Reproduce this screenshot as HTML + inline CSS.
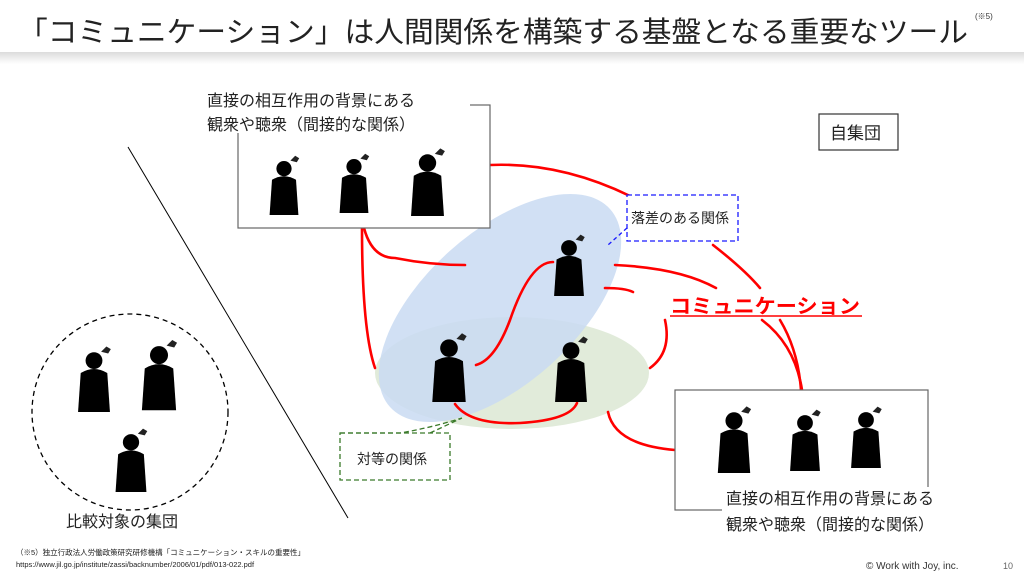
<!DOCTYPE html>
<html><head><meta charset="utf-8"><style>
body{margin:0;width:1024px;height:576px;overflow:hidden;background:#fff;font-family:"Liberation Sans","Noto Sans CJK JP",sans-serif;}
</style></head><body>
<svg width="1024" height="576" viewBox="0 0 1024 576" xmlns="http://www.w3.org/2000/svg" font-family="Liberation Sans, Noto Sans CJK JP, sans-serif">
<defs>
<linearGradient id="sh" x1="0" y1="0" x2="0" y2="1"><stop offset="0" stop-color="#dcdcdc"/><stop offset="1" stop-color="#fff"/></linearGradient>
<symbol id="p" viewBox="0 0 40 70" overflow="visible">
<circle cx="20" cy="12" r="9.5" fill="#000"/>
<path d="M5 26 Q20 17 35 26 L38 70 L2 70 Z" fill="#000"/>
<path d="M28 2 l6 -6 l5 3 l-3 5 z" fill="#222"/>
</symbol>
</defs>
<rect x="0" y="0" width="1024" height="52" fill="#fff"/>
<rect x="0" y="52" width="1024" height="12" fill="url(#sh)"/>
<text x="18" y="42" font-size="29" fill="#222" textLength="950" lengthAdjust="spacingAndGlyphs">「コミュニケーション」は人間関係を構築する基盤となる重要なツール</text>
<text x="975" y="19" font-size="8" fill="#333">(※5)</text>

<line x1="128" y1="147" x2="348" y2="518" stroke="#000" stroke-width="1"/>

<circle cx="130" cy="412" r="98" fill="none" stroke="#000" stroke-width="1.3" stroke-dasharray="5,4"/>
<use href="#p" x="76" y="350" width="36" height="62"/>
<use href="#p" x="140" y="343" width="38" height="68"/>
<use href="#p" x="113" y="432" width="36" height="60"/>
<text x="66" y="527" font-size="16" fill="#222">比較対象の集団</text>

<ellipse cx="512" cy="373" rx="137" ry="56" fill="#e1ebda"/>
<ellipse cx="500" cy="308" rx="148" ry="76" transform="rotate(-42 500 308)" fill="#c9daf2" opacity="0.85"/>

<g fill="none" stroke="#f00" stroke-width="2.6" stroke-linecap="round">
<path d="M490 165 Q560 162 630 196"/>
<path d="M362 228 Q362 330 375 368"/>
<path d="M364 228 Q372 258 395 258 Q430 265 465 265"/>
<path d="M476 365 Q495 360 510 320 Q530 262 553 262"/>
<path d="M615 265 Q680 268 716 288"/>
<path d="M605 288 Q625 288 633 292"/>
<path d="M665 320 Q672 352 650 368"/>
<path d="M455 404 Q470 425 520 423 Q570 420 577 403"/>
<path d="M608 412 Q615 445 675 450"/>
<path d="M713 245 Q745 270 760 288"/>
<path d="M762 320 Q795 345 802 390"/>
<path d="M780 320 Q798 350 801 390"/>
</g>

<rect x="238" y="105" width="252" height="123" fill="#fff" stroke="#666" stroke-width="1.2"/>
<rect x="205" y="85" width="265" height="48" fill="#fff"/>
<text x="207" y="106" font-size="16" fill="#222">直接の相互作用の背景にある</text>
<text x="207" y="130" font-size="16" fill="#222">観衆や聴衆（間接的な関係）</text>
<use href="#p" x="268" y="158" width="32" height="58"/>
<use href="#p" x="338" y="155" width="32" height="60"/>
<use href="#p" x="405" y="152" width="45" height="64"/>

<use href="#p" x="550" y="238" width="38" height="58"/>
<use href="#p" x="430" y="337" width="38" height="65"/>
<use href="#p" x="553" y="340" width="36" height="62"/>

<rect x="627" y="195" width="111" height="46" fill="#fff" stroke="#1a1aff" stroke-width="1.3" stroke-dasharray="5,3"/>
<text x="631" y="223" font-size="14" fill="#222">落差のある関係</text>
<path d="M627 228 L608 245" stroke="#1a1aff" stroke-width="1.3" stroke-dasharray="4,3"/>

<rect x="340" y="433" width="110" height="47" fill="#fff" stroke="#3a7a2a" stroke-width="1.3" stroke-dasharray="5,3"/>
<text x="357" y="464" font-size="14" fill="#222">対等の関係</text>
<path d="M340 433 L400 433 Q430 428 462 418 M430 433 L462 418" fill="none" stroke="#3a7a2a" stroke-width="1.3" stroke-dasharray="5,3"/>

<text x="670" y="313" font-size="20" font-weight="bold" fill="#f00" textLength="190" lengthAdjust="spacingAndGlyphs">コミュニケーション</text>
<line x1="670" y1="316" x2="862" y2="316" stroke="#f00" stroke-width="1.5"/>

<rect x="819" y="114" width="79" height="36" fill="#fff" stroke="#333" stroke-width="1.2"/>
<text x="830" y="139" font-size="17" fill="#222">自集団</text>

<rect x="675" y="390" width="253" height="120" fill="#fff" stroke="#666" stroke-width="1.2"/>
<rect x="722" y="487" width="250" height="50" fill="#fff"/>
<text x="726" y="504" font-size="16" fill="#222">直接の相互作用の背景にある</text>
<text x="726" y="530" font-size="16" fill="#222">観衆や聴衆（間接的な関係）</text>
<use href="#p" x="716" y="410" width="36" height="63"/>
<use href="#p" x="788" y="413" width="34" height="58"/>
<use href="#p" x="848" y="410" width="36" height="58"/>

<text x="16" y="555" font-size="7.5" fill="#222">（※5）独立行政法人労働政策研究研修機構「コミュニケーション・スキルの重要性」</text>
<text x="16" y="567" font-size="7.5" fill="#222">https://www.jil.go.jp/institute/zassi/backnumber/2006/01/pdf/013-022.pdf</text>
<text x="866" y="569" font-size="10" fill="#333">© Work with Joy, inc.</text>
<text x="1003" y="569" font-size="9" fill="#666">10</text>
</svg>
</body></html>
